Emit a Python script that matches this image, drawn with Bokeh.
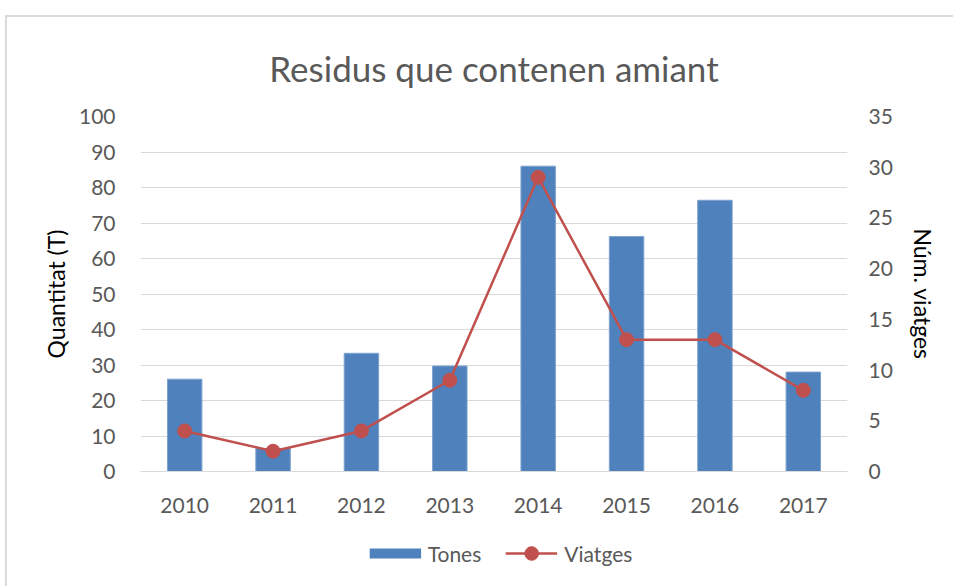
from bokeh.plotting import figure
from bokeh.layouts import column
from bokeh.models import (FactorRange, Range1d, LinearAxis, Legend, LegendItem,
                          Title, SingleIntervalTicker, ColumnDataSource)
from bokeh.embed import file_html
from bokeh.resources import INLINE

years = ["2010", "2011", "2012", "2013", "2014", "2015", "2016", "2017"]
tones = [26, 6.5, 33.3, 29.7, 86, 66.2, 76.4, 28]
viatges = [4, 2, 4, 9, 29, 13, 13, 8]

FONT = "Lato"
GRAY = "#595959"
BLUE = "#4f81bd"
RED = "#c0504d"

src = ColumnDataSource(dict(x=years, tones=tones, viatges=viatges))

p = figure(frame_width=707, frame_height=355,
           x_range=FactorRange(*years, range_padding=0),
           y_range=Range1d(0, 100), output_backend="svg", toolbar_location=None,
           min_border_left=133, min_border_right=98, min_border_top=98,
           min_border_bottom=60)
p.outline_line_color = None
p.extra_y_ranges = {"v": Range1d(0, 35)}

bars = p.vbar(x="x", top="tones", width=0.39, source=src, fill_color=BLUE,
              line_color="#7da2ce", line_width=1)
line = p.line(x="x", y="viatges", source=src, y_range_name="v",
              line_color=RED, line_width=2.5)
dots = p.scatter(x="x", y="viatges", source=src, y_range_name="v", size=14,
                 fill_color=RED, line_color=RED)

p.xgrid.grid_line_color = None
p.ygrid.grid_line_color = "#d9d9d9"
p.ygrid.grid_line_width = 1

yax = p.yaxis[0]
yax.ticker = SingleIntervalTicker(interval=10)
yax.axis_label = "Quantitat (T)"
yax.axis_line_color = None
yax.major_tick_line_color = None
yax.minor_tick_line_color = None
yax.major_label_text_font = FONT
yax.major_label_text_font_size = "21px"
yax.major_label_text_color = GRAY
yax.major_label_standoff = 19
yax.axis_label_text_font = FONT
yax.axis_label_text_font_size = "23px"
yax.axis_label_text_font_style = "normal"
yax.axis_label_text_color = "black"
yax.axis_label_standoff = 6

rax = LinearAxis(y_range_name="v", ticker=SingleIntervalTicker(interval=5),
                 axis_label="Núm. viatges")
rax.axis_line_color = None
rax.major_tick_line_color = None
rax.minor_tick_line_color = None
rax.major_label_text_font = FONT
rax.major_label_text_font_size = "21px"
rax.major_label_text_color = GRAY
rax.major_label_standoff = 15
rax.axis_label_text_font = FONT
rax.axis_label_text_font_size = "23px"
rax.axis_label_text_font_style = "normal"
rax.axis_label_text_color = "black"
rax.axis_label_standoff = 13
p.add_layout(rax, "right")

xax = p.xaxis[0]
xax.axis_line_color = "#d9d9d9"
xax.major_tick_line_color = None
xax.minor_tick_line_color = None
xax.major_label_text_font = FONT
xax.major_label_text_font_size = "21px"
xax.major_label_text_color = GRAY
xax.major_label_standoff = 20

title = Title(text="Residus que contenen amiant", align="center",
              text_font=FONT, text_font_size="35px", text_font_style="normal",
              text_color=GRAY, standoff=55, offset=-14)
p.add_layout(title, "above")

# legend strip: same series, drawn outside its visible range so only the legend shows
lg = figure(width=p.min_border_left + 707 + 98 + 14, height=56,
            x_range=FactorRange(*years), y_range=Range1d(1000, 1001),
            output_backend="svg", toolbar_location=None,
            min_border_left=0, min_border_right=0, min_border_top=0,
            min_border_bottom=12)
lg.axis.visible = False
lg.grid.grid_line_color = None
lg.outline_line_color = None
lbars = lg.line(x="x", y="tones", source=src, line_color=BLUE, line_width=10)
lline = lg.line(x="x", y="viatges", source=src, line_color=RED, line_width=2.5)
ldots = lg.scatter(x="x", y="viatges", source=src, size=14,
                   fill_color=RED, line_color=RED)
legend = Legend(items=[LegendItem(label="Tones", renderers=[lbars]),
                       LegendItem(label="Viatges", renderers=[lline, ldots])],
                orientation="horizontal", location="center",
                label_text_font=FONT, label_text_font_size="21px",
                label_text_color=GRAY, glyph_width=52, glyph_height=34,
                label_standoff=7, border_line_color=None,
                background_fill_alpha=0, spacing=24, margin=0, padding=0)
lg.add_layout(legend, "center")

layout = column(p, lg, spacing=0)
layout.styles = {"border-left": "2px solid #dadada", "border-top": "2px solid #dadada",
                 "margin-left": "5px", "margin-top": "15px"}

open("out.html", "w").write(file_html(layout, INLINE))
